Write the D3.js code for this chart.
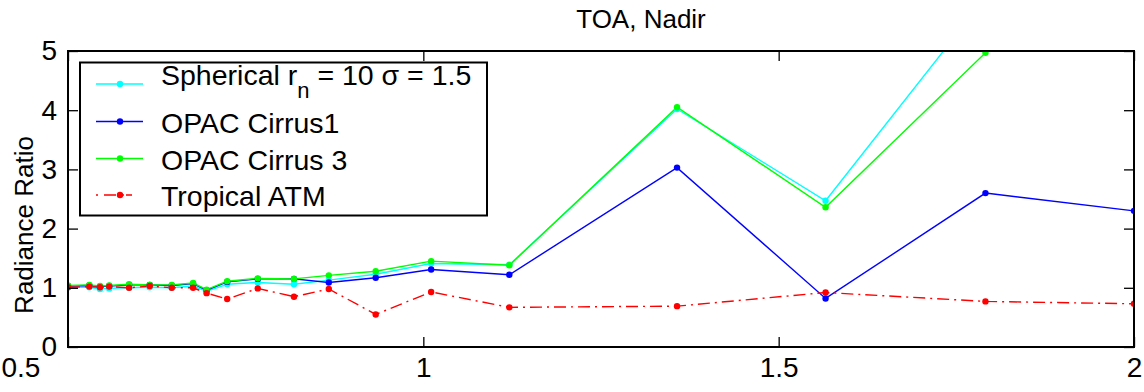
<!DOCTYPE html>
<html>
<head>
<meta charset="utf-8">
<script src="https://cdn.jsdelivr.net/npm/d3@7/dist/d3.min.js"></script>
<style>
  html, body { margin: 0; padding: 0; background: #fff; }
  svg { display: block; font-family: "Liberation Sans", Arial, Helvetica, sans-serif; }
</style>
</head>
<body>
<svg id="chart" width="1144" height="392"></svg>
<script>
// Wavelength grid (µm) shared by every series
const wavelengths = [0.5, 0.53, 0.545, 0.558, 0.586, 0.615, 0.646, 0.676, 0.695, 0.724,
                     0.767, 0.818, 0.867, 0.933, 1.011, 1.121, 1.357, 1.566, 1.791, 2.0];

// Radiance ratio per series
const spherical = [1.01, 1.01, 0.98, 0.99, 1.00, 1.01, 1.00, 1.03, 0.94, 1.06,
                   1.09, 1.06, 1.13, 1.23, 1.41, 1.39, 4.02, 2.47, 5.90, 7.20];
const opacCirrus1 = [1.03, 1.04, 1.02, 1.03, 1.05, 1.05, 1.04, 1.07, 0.96, 1.10,
                     1.15, 1.15, 1.09, 1.17, 1.31, 1.22, 3.03, 0.82, 2.60, 2.30];
const opacCirrus3 = [1.04, 1.05, 1.03, 1.04, 1.06, 1.05, 1.05, 1.08, 0.97, 1.11,
                     1.16, 1.15, 1.21, 1.28, 1.45, 1.38, 4.05, 2.36, 4.97, 6.50];
const tropicalAtm = [1.01, 1.02, 1.01, 1.02, 1.00, 1.03, 1.00, 1.00, 0.91, 0.81,
                     0.99, 0.85, 0.98, 0.55, 0.93, 0.67, 0.69, 0.92, 0.77, 0.73];

const xTicks = [0.5, 1, 1.5, 2];
const yTicks = [0, 1, 2, 3, 4, 5];

const series = [
  { name: "Spherical", values: spherical,   color: "#00ffff", dash: null },
  { name: "OPAC Cirrus1", values: opacCirrus1, color: "#0000ff", dash: null },
  { name: "OPAC Cirrus 3", values: opacCirrus3, color: "#00ff00", dash: null },
  { name: "Tropical ATM", values: tropicalAtm, color: "#ff0000", dash: "12,5,2,5" }
];

const svg = d3.select("#chart");
const plot = { left: 68, right: 1134, top: 51, bottom: 347 };

const x = d3.scaleLinear().domain([0.5, 2]).range([plot.left, plot.right]);
const y = d3.scaleLinear().domain([0, 5]).range([plot.bottom, plot.top]);

svg.append("defs").append("clipPath").attr("id", "plotClip")
  .append("rect")
  .attr("x", plot.left).attr("y", plot.top)
  .attr("width", plot.right - plot.left).attr("height", plot.bottom - plot.top);

// Data lines and markers
const line = d3.line().x((d, i) => x(wavelengths[i])).y(d => y(d));
const dataLayer = svg.append("g").attr("clip-path", "url(#plotClip)");
series.forEach(s => {
  dataLayer.append("path")
    .datum(s.values)
    .attr("d", line)
    .attr("fill", "none")
    .attr("stroke", s.color)
    .attr("stroke-width", 1.4)
    .attr("stroke-dasharray", s.dash);
});
series.forEach(s => {
  dataLayer.selectAll(null)
    .data(s.values)
    .enter().append("circle")
    .attr("cx", (d, i) => x(wavelengths[i]))
    .attr("cy", d => y(d))
    .attr("r", 3.2)
    .attr("fill", s.color);
});

// Axes box with inward ticks on all four sides
const tickLen = 10;
const tickStyle = g => {
  g.select(".domain").remove();
  g.selectAll(".tick line").attr("stroke", "#000").attr("stroke-width", 1.3);
  g.selectAll(".tick text").attr("fill", "#000").style("font-size", "28px");
};
const bottomAxis = svg.append("g").attr("transform", `translate(0,${plot.bottom})`)
  .call(d3.axisBottom(x).tickValues(xTicks).tickFormat(d3.format("")).tickSizeInner(-tickLen).tickPadding(10))
  .call(tickStyle);
// the leftmost label sits flush with the figure's left edge
bottomAxis.selectAll(".tick text").filter(d => d === 0.5).attr("text-anchor", "start").attr("x", -plot.left + 1);
svg.append("g").attr("transform", `translate(0,${plot.top})`)
  .call(d3.axisTop(x).tickValues(xTicks).tickFormat("").tickSizeInner(-tickLen))
  .call(tickStyle);
svg.append("g").attr("transform", `translate(${plot.left},0)`)
  .call(d3.axisLeft(y).tickValues(yTicks).tickFormat(d3.format("d")).tickSizeInner(-tickLen).tickPadding(11))
  .call(tickStyle);
svg.append("g").attr("transform", `translate(${plot.right},0)`)
  .call(d3.axisRight(y).tickValues(yTicks).tickFormat("").tickSizeInner(-tickLen))
  .call(tickStyle);

svg.append("rect")
  .attr("x", plot.left).attr("y", plot.top)
  .attr("width", plot.right - plot.left).attr("height", plot.bottom - plot.top)
  .attr("fill", "none").attr("stroke", "#000").attr("stroke-width", 2);

// Title and axis label
svg.append("text")
  .attr("x", 641).attr("y", 28)
  .attr("text-anchor", "middle").style("font-size", "26px")
  .text("TOA, Nadir");
svg.append("text")
  .attr("transform", `translate(33,225) rotate(-90)`)
  .attr("text-anchor", "middle").style("font-size", "26px")
  .text("Radiance Ratio");

// Legend
const legend = svg.append("g");
legend.append("rect")
  .attr("x", 80).attr("y", 62.5).attr("width", 407).attr("height", 153)
  .attr("fill", "#fff").attr("stroke", "#000").attr("stroke-width", 2);
const rowY = [84, 121.5, 158.5, 195];
series.forEach((s, i) => {
  const g = legend.append("g").attr("transform", `translate(0,${rowY[i]})`);
  g.append("line")
    .attr("x1", 96).attr("x2", 143).attr("y1", 0).attr("y2", 0)
    .attr("stroke", s.color).attr("stroke-width", 1.4)
    .attr("stroke-dasharray", s.dash ? "2,6,12,6,2" : null);
  g.append("circle").attr("cx", 120).attr("cy", 0).attr("r", 3.2).attr("fill", s.color);
  const t = g.append("text").attr("x", 161).attr("y", i === 0 ? 1 : 11).style("font-size", "28.5px");
  if (i === 0) {
    t.append("tspan").text("Spherical r");
    t.append("tspan").attr("dy", 13).style("font-size", "22px").text("n");
    t.append("tspan").attr("dy", -13).text(" = 10 \u03c3 = 1.5");
  } else {
    t.text(s.name);
  }
});
</script>
</body>
</html>
